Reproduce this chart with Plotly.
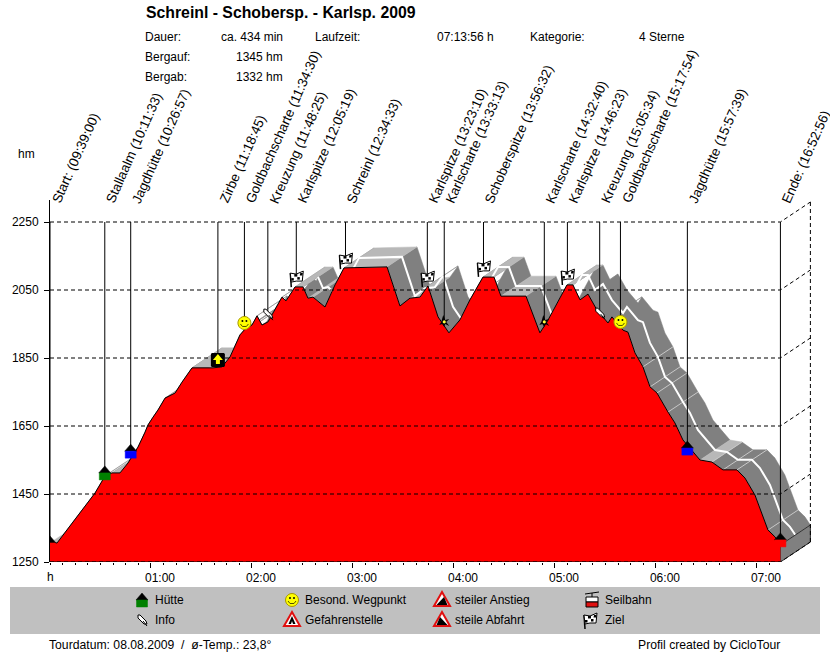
import math
import plotly.graph_objects as go

FONT = "Liberation Sans"
W, H = 830, 652

# hours since start / elevation in hm
prof_h = [0, 0.07, 0.446, 0.545, 0.614, 0.693, 0.772, 0.871, 0.941, 0.97, 1.02, 1.069, 1.139, 1.238, 1.307,
          1.406, 1.614, 1.703, 1.782, 1.881, 1.931, 2.0, 2.05, 2.099, 2.158, 2.228, 2.297, 2.337, 2.426, 2.505,
          2.554, 2.604, 2.723, 2.822, 2.911, 3.337, 3.465, 3.564, 3.663, 3.743, 3.842, 3.95, 4.059, 4.158,
          4.287, 4.396, 4.465, 4.713, 4.851, 4.921, 5.119, 5.178, 5.248, 5.327, 5.416, 5.525, 5.564, 5.673,
          5.723, 5.792, 5.871, 5.941, 6.01, 6.119, 6.188, 6.267, 6.366, 6.436, 6.554, 6.663, 6.802, 6.881,
          6.98, 7.109, 7.178, 7.232]
prof_hm = [1306, 1306, 1453, 1503, 1512, 1512, 1541, 1588, 1632, 1653, 1676, 1697, 1732, 1747, 1779,
           1821, 1821, 1824, 1853, 1918, 1935, 1947, 1974, 1947, 1956, 1994, 2029, 2018, 2059, 2059,
           2026, 2029, 2000, 2065, 2115, 2118, 2003, 2026, 2029, 2062, 1971, 1924, 1962, 2021,
           2088, 2088, 2032, 2032, 1924, 1956, 2065, 2065, 2021, 2038, 1991, 1953, 1971, 1932,
           1926, 1865, 1824, 1765, 1747, 1691, 1659, 1609, 1574, 1550, 1544, 1521, 1521, 1497,
           1447, 1344, 1324, 1300]

# waypoints
wp_names = ["Start:", "Stallaalm", "Jagdhütte", "Zirbe", "Goldbachscharte", "Kreuzung", "Karlspitze", "Schreinl",
            "Karlspitze", "Karlscharte", "Schoberspitze", "Karlscharte", "Karlspitze", "Kreuzung",
            "Goldbachscharte", "Jagdhütte", "Ende:"]
wp_times = ["09:39:00", "10:11:33", "10:26:57", "11:18:45", "11:34:30", "11:48:25", "12:05:19", "12:34:33",
            "13:23:10", "13:33:13", "13:56:32", "14:32:40", "14:46:23", "15:05:34", "15:17:54", "15:57:39",
            "16:52:56"]
wp_hm = [1306, 1512, 1576, 1844, 1953, 1979, 2085, 2138, 2085, 1956, 2115, 1956, 2091, 1982, 1956, 1585, 1315]
wp_kinds = ["hut_red", "hut_green", "hut_blue", "zirbe", "smiley", "pin", "flag", "flag", "flag", "spark", "flag",
            "spark", "flag", "pin", "smiley", "hut_blue", "hut_red"]

y_ticks = [1250, 1450, 1650, 1850, 2050, 2250]
x_ticks = [1, 2, 3, 4, 5, 6, 7]
x_labels = ["01:00", "02:00", "03:00", "04:00", "05:00", "06:00", "07:00"]

# profile points where a thin light stripe crosses the band
hatch_h = [5.871, 5.941, 6.01, 6.119, 6.554, 6.663, 6.802, 7.109]
hatch_hm = [1824, 1765, 1747, 1691, 1544, 1521, 1521, 1344]

legend_labels = ["Hütte", "Info", "Besond. Wegpunkt", "Gefahrenstelle", "steiler Anstieg", "steile Abfahrt",
                 "Seilbahn", "Ziel"]
legend_kinds = ["hut_green", "pin", "smiley", "danger", "climb", "descent", "cable", "flag"]
legend_px = [(142, 600), (142, 620), (292, 600), (292, 620), (442, 600), (442, 620), (592, 600), (590, 620)]

# the depth of the 3d band, in axis units
depth_h = 0.297
depth_hm = 58.8
end_h = prof_h[-1]


def fx(px):
    return px / W


def fy(py):
    return 1 - py / H


def to_hours(t):
    hh, mm, ss = t.split(":")
    h0, m0, s0 = wp_times[0].split(":")
    return (int(hh) - int(h0)) + (int(mm) - int(m0)) / 60 + (int(ss) - int(s0)) / 3600


def poly(pts, closed=True):
    s = "M " + " L ".join(f"{x},{y}" for x, y in pts)
    return s + " Z" if closed else s


def circle(cx, cy, r, n=20):
    return [(round(cx + r * math.cos(2 * math.pi * i / n), 2), round(cy + r * math.sin(2 * math.pi * i / n), 2))
            for i in range(n)]


def hut(color):
    return [(poly([(-6, 0), (0, 7), (6, 0)]), "black", "black", 0.5),
            (poly([(-5.5, 0), (5.5, 0), (5.5, -7), (-5.5, -7)]), color, color, 0.5)]


def flag_parts():
    return [(poly([(-5, -9), (-6, 5)], False), None, "black", 1.5),
            (poly([(-6, 5), (0, 4), (7, 7), (6, -3), (0, -3), (-5, -4)]), "white", "black", 1),
            (poly([(-2, 4), (1, 4), (1, 1.5), (-2, 1.5)]), "black", "black", 0),
            (poly([(4, 5), (6.5, 5), (6, 2.5), (3.5, 2.5)]), "black", "black", 0),
            (poly([(1, 1), (3.5, 1), (3.5, -1.5), (1, -1.5)]), "black", "black", 0),
            (poly([(-5, 0), (-2.5, 0), (-2.5, -2.5), (-5, -2.5)]), "black", "black", 0)]


ICONS = {
    "hut_red": hut("#ff0000"),
    "hut_green": hut("#008000"),
    "hut_blue": hut("#0000ff"),
    "flag": flag_parts(),
    "smiley": [(poly(circle(0, 0, 6.5)), "#ffff00", "#a89800", 1),
               (poly(circle(-2, 2, 1, 8)), "black", "black", 0),
               (poly(circle(2, 2, 1, 8)), "black", "black", 0),
               (poly([(-4, -1), (-2, -3.5), (2, -3.5), (4, -1)], False), None, "#505000", 1)],
    "zirbe": [(poly([(-6, 7), (6, 7), (7, 6), (7, -6), (6, -7), (-6, -7), (-7, -6), (-7, 6)]), "black", "black", 0),
              (poly([(0, 6), (5, 0), (2, 0), (2, -4), (-2, -4), (-2, 0), (-5, 0)]), "#ffff00", "#ffff00", 0)],
    "pin": [(poly([(-4, 5), (-2, 5), (4, -1), (5, -4), (2, -4), (-4, 2)]), "white", "black", 1),
            (poly([(1, -1), (5, -6)], False), None, "black", 1)],
    "spark": [(poly([(-1, 7), (1, 2), (5, 3), (2, 0), (5, -4), (1, -2), (0, -5), (-2, -2), (-5, -3), (-3, 0)]),
               "black", "black", 0),
              (poly(circle(0, 0, 1.6, 8)), "#ffff40", "#ffff40", 0)],
    "danger": [(poly([(0, 8), (8, -6), (-8, -6)]), "white", "#e01010", 2),
               (poly([(0, 4), (3.5, -4), (1, -4), (0, -1), (-1, -4), (-3.5, -4)]), "black", "black", 0)],
    "climb": [(poly([(0, 8), (8, -6), (-8, -6)]), "white", "#e01010", 2),
              (poly([(-5.5, -5), (5.5, -5), (2, 3)]), "black", "black", 0)],
    "descent": [(poly([(0, 8), (8, -6), (-8, -6)]), "white", "#e01010", 2),
                (poly([(-2, 3), (5.5, -5), (-5.5, -5)]), "black", "black", 0)],
    "cable": [(poly([(-7, 6), (7, 8)], False), None, "black", 1),
              (poly([(0, 7), (0, 3)], False), None, "black", 1),
              (poly([(-6, 3), (6, 3), (6, -2), (-6, -2)]), "white", "black", 1),
              (poly([(-6, -2), (6, -2), (6, -7), (-6, -7)]), "#e01010", "black", 1)],
}


def icon_shapes(kind, xref, x, yref, y):
    out = []
    for path, fill, color, width in ICONS[kind]:
        out.append(dict(type="path", path=path, xref=xref, yref=yref, xsizemode="pixel", ysizemode="pixel",
                        xanchor=x, yanchor=y, fillcolor=fill if fill else "rgba(0,0,0,0)",
                        line=dict(color=color, width=width), layer="above"))
    return out


def label(px, py, text, anchor="left", size=12, bold=False):
    return dict(xref="paper", yref="paper", x=fx(px), y=fy(py), text=f"<b>{text}</b>" if bold else text,
                xanchor=anchor, yanchor="middle", showarrow=False, font=dict(family=FONT, size=size, color="black"))


# gray band behind the profile, one parallelogram per segment
# flat parts are lighter, the last ones near the end stay dark
dark_x, dark_y, light_x, light_y = [], [], [], []
for i in range(len(prof_h) - 1):
    x1, x2, y1, y2 = prof_h[i], prof_h[i + 1], prof_hm[i], prof_hm[i + 1]
    xs = [x1, x2, x2 + depth_h, x1 + depth_h, x1, None]
    ys = [y1, y2, y2 + depth_hm, y1 + depth_hm, y1, None]
    if abs((y2 - y1) / (x2 - x1)) < 60 and x1 < 6.6:
        light_x += xs
        light_y += ys
    else:
        dark_x += xs
        dark_y += ys

# white track in the middle of the band, it only shows after the first summit
mid_x = [h + depth_h / 2 for h in prof_h if h > 2.45]
mid_y = [e + depth_hm / 2 for h, e in zip(prof_h, prof_hm) if h > 2.45]

stripe_x, stripe_y = [], []
for h, e in zip(hatch_h, hatch_hm):
    stripe_x += [h, h + depth_h, None]
    stripe_y += [e, e + depth_hm, None]

fig = go.Figure()
fig.add_trace(go.Scatter(x=dark_x, y=dark_y, mode="lines", fill="toself", fillcolor="#808080",
                         line=dict(color="#808080", width=0.5)))
fig.add_trace(go.Scatter(x=light_x, y=light_y, mode="lines", fill="toself", fillcolor="#b8b8b8",
                         line=dict(color="#b8b8b8", width=0.5)))
fig.add_trace(go.Scatter(x=stripe_x, y=stripe_y, mode="lines", line=dict(color="#c8c8c8", width=1)))
fig.add_trace(go.Scatter(x=mid_x, y=mid_y, mode="lines", line=dict(color="white", width=2)))

# end cap
fig.add_trace(go.Scatter(x=[end_h, end_h + depth_h, end_h + depth_h, end_h, end_h],
                         y=[prof_hm[-1], prof_hm[-1] + depth_hm, y_ticks[0] + depth_hm, y_ticks[0], prof_hm[-1]],
                         mode="lines", fill="toself", fillcolor="#808080", line=dict(color="#303030", width=1)))

# profile
fig.add_trace(go.Scatter(x=prof_h, y=prof_hm, mode="lines", fill="tozeroy", fillcolor="#ff0000",
                         line=dict(color="black", width=1)))

# dashed grid with the 3d back wall
grid_x, grid_y = [], []
for v in y_ticks:
    grid_x += [0, end_h, end_h + depth_h, None]
    grid_y += [v, v, v + depth_hm, None]
grid_x += [end_h + depth_h, end_h + depth_h]
grid_y += [y_ticks[0] + depth_hm, y_ticks[-1] + depth_hm]
fig.add_trace(go.Scatter(x=grid_x, y=grid_y, mode="lines", line=dict(color="black", width=1, dash="4px,3px")))

# waypoint lines
wp_h = [to_hours(t) for t in wp_times]
line_x, line_y = [], []
for h, e in zip(wp_h, wp_hm):
    line_x += [h, h, None]
    line_y += [y_ticks[-1], e, None]
fig.add_trace(go.Scatter(x=line_x, y=line_y, mode="lines", line=dict(color="black", width=1)))
fig.add_trace(go.Scatter(x=[0, end_h], y=[y_ticks[0], y_ticks[0]], mode="lines", line=dict(color="black", width=1)))

shapes = [dict(type="rect", xref="paper", yref="paper", x0=fx(10), x1=fx(820), y0=fy(634), y1=fy(587),
               fillcolor="#c0c0c0", line=dict(width=0), layer="below")]
for h, e, k in zip(wp_h, wp_hm, wp_kinds):
    shapes += icon_shapes(k, "x", h, "y", e)
for k, (px, py) in zip(legend_kinds, legend_px):
    shapes += icon_shapes(k, "paper", fx(px), "paper", fy(py))

annotations = [
    label(144, 13, "Schreinl - Schobersp. - Karlsp. 2009", size=15.8, bold=True),
    label(143, 37, "Dauer:"),
    label(285, 37, "ca. 434 min", "right"),
    label(143, 57, "Bergauf:"),
    label(285, 57, "1345 hm", "right"),
    label(143, 77, "Bergab:"),
    label(285, 77, "1332 hm", "right"),
    label(313, 37, "Laufzeit:"),
    label(435, 37, "07:13:56 h"),
    label(528, 37, "Kategorie:"),
    label(637, 37, "4 Sterne"),
    label(16, 154, "hm"),
    label(47, 645, "Tourdatum: 08.08.2009&nbsp;&nbsp;/&nbsp;&nbsp;ø-Temp.: 23,8°", size=12.2),
    label(782, 645, "Profil created by CicloTour", "right", size=12.2),
    dict(xref="x", yref="paper", x=0, y=fy(577), text="h", xanchor="center", yanchor="middle", showarrow=False,
         font=dict(family=FONT, size=12, color="black")),
]
for text, (px, py) in zip(legend_labels, legend_px):
    annotations.append(label(603 if px == 590 else px + 11, py, text))
for name, t, h in zip(wp_names, wp_times, wp_h):
    annotations.append(dict(xref="x", yref="paper", x=h, xshift=-4, y=fy(208), text=f"{name} ({t})", textangle=-66,
                            xanchor="left", yanchor="bottom", showarrow=False,
                            font=dict(family=FONT, size=13.4, color="black")))

fig.update_layout(
    width=W, height=H, autosize=False,
    margin=dict(l=0, r=0, t=0, b=0, pad=0),
    paper_bgcolor="white", plot_bgcolor="white",
    showlegend=False, hovermode=False,
    shapes=shapes, annotations=annotations,
    font=dict(family=FONT, size=12, color="black"),
    xaxis=dict(domain=[fx(50), fx(812)], range=[0, 7.545], showgrid=False, zeroline=False, showline=False,
               automargin=False,
               tickmode="array", tickvals=x_ticks, ticktext=x_labels, ticks="outside", ticklen=5, tickcolor="black",
               ticklabelshift=9, ticklabelstandoff=0,
               minor=dict(tickmode="array", tickvals=[i / 8 for i in range(58)], ticks="outside", ticklen=2,
                          tickcolor="black", showgrid=False)),
    yaxis=dict(domain=[fy(562), fy(200)], range=[1250, 2314.7], showgrid=False, zeroline=False, showline=True,
               automargin=False,
               linecolor="black", linewidth=1, tickmode="array", tickvals=y_ticks, ticks="outside", ticklen=5,
               tickcolor="black", ticklabelstandoff=3),
)
fig.write_html("out.html", config=dict(displayModeBar=False), post_script="document.body.style.margin='0';")
